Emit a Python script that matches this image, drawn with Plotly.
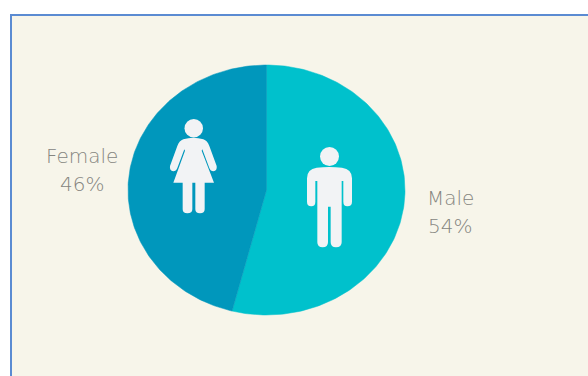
import numpy as np
import plotly.graph_objects as go

# Gender split
categories = ["Male", "Female"]
shares = [54, 46]
slice_colors = ["#00C1CC", "#0097BC"]

W, H = 588, 376
CX, CY, RX, RY = 266.5, 190, 138.5, 125
ICON = "#F2F3F5"
LABEL = "#85857F"
FONT = "DejaVu Sans ExtraLight, DejaVu Sans, sans-serif"


def wedge(start, end):
    # Clockwise sector from the 12 o'clock position, in shares of the total
    t = 2 * np.pi * np.linspace(start, end, 181)
    xs = np.concatenate([[CX], CX + RX * np.sin(t), [CX]])
    ys = np.concatenate([[CY], CY - RY * np.cos(t), [CY]])
    return xs, ys


def glyph(ox, oy, cmds):
    # Icon outlines are written on a grid of three units per pixel
    out = []
    for c in cmds:
        if isinstance(c, str):
            out.append(c)
        else:
            out.append(f"{ox + c[0] / 3:.2f},{oy + c[1] / 3:.2f}")
    return " ".join(out)


female_body = [
    "M", (190, 118), "Q", (220, 108), (250, 118), "Q", (262, 122), (268, 138),
    "L", (290, 198), "Q", (292, 212), (280, 214), "Q", (272, 214), (268, 204),
    "L", (247, 148), "L", (245, 152), "L", (282, 248), "L", (254, 248),
    "L", (254, 328), "Q", (254, 340), (240, 340), "Q", (226, 340), (226, 328),
    "L", (226, 248), "L", (217, 248), "L", (217, 328), "Q", (217, 340), (202, 340),
    "Q", (188, 340), (188, 328), "L", (188, 248), "L", (160, 248), "L", (195, 152),
    "L", (193, 148), "L", (172, 204), "Q", (168, 214), (160, 214),
    "Q", (148, 212), (150, 198), "L", (172, 138), "Q", (178, 122), (190, 118), "Z",
]
male_body = [
    "M", (80, 98), "Q", (118, 94), (156, 98), "Q", (186, 102), (186, 130),
    "L", (186, 200), "Q", (186, 214), (172, 214), "Q", (160, 214), (160, 200),
    "L", (160, 138), "L", (155, 138), "L", (155, 322), "Q", (155, 337), (138, 337),
    "Q", (122, 337), (122, 322), "L", (122, 215), "L", (114, 215), "L", (114, 322),
    "Q", (114, 337), (98, 337), "Q", (82, 337), (82, 322), "L", (82, 138),
    "L", (76, 138), "L", (76, 200), "Q", (76, 214), (64, 214), "Q", (51, 214), (51, 200),
    "L", (51, 130), "Q", (51, 102), (80, 98), "Z",
]

fig = go.Figure()

total = sum(shares)
cum = 0
for name, val, col in zip(categories, shares, slice_colors):
    xs, ys = wedge(cum / total, (cum + val) / total)
    cum += val
    fig.add_trace(go.Scatter(
        x=xs, y=ys, name=name, mode="lines", fill="toself", fillcolor=col,
        line=dict(color=col, width=0.5), hoverinfo="name",
    ))

shapes = [
    # Card behind the chart; it runs off the right and bottom edges
    dict(type="rect", x0=11, y0=15, x1=W + 20, y1=H + 20, xref="x", yref="y",
         fillcolor="#F7F5EA", line=dict(color="#5B8BD2", width=2), layer="below"),
    dict(type="path", path=glyph(120, 100, female_body), xref="x", yref="y",
         fillcolor=ICON, line=dict(width=0)),
    dict(type="circle", x0=184.5, x1=203, y0=119, y1=137.5, xref="x", yref="y",
         fillcolor=ICON, line=dict(width=0)),
    dict(type="path", path=glyph(290, 135, male_body), xref="x", yref="y",
         fillcolor=ICON, line=dict(width=0)),
    dict(type="circle", x0=320, x1=339, y0=147, y1=166, xref="x", yref="y",
         fillcolor=ICON, line=dict(width=0)),
]

label_spots = {"Male": (450, 198, 226), "Female": (82, 156, 184)}
annotations = []
for name, val in zip(categories, shares):
    x, y1, y2 = label_spots[name]
    for text, y in ((name, y1), (f"{val}%", y2)):
        annotations.append(dict(
            x=x, y=y, xref="x", yref="y", text=text, showarrow=False,
            xanchor="center", yanchor="middle",
            font=dict(family=FONT, size=20, color=LABEL, weight=200),
        ))

fig.update_layout(
    width=W, height=H, margin=dict(l=0, r=0, t=0, b=0),
    paper_bgcolor="#FFFFFF", plot_bgcolor="rgba(0,0,0,0)", showlegend=False,
    xaxis=dict(range=[0, W], visible=False, fixedrange=True),
    yaxis=dict(range=[H, 0], visible=False, fixedrange=True),
    shapes=shapes, annotations=annotations,
)

fig.write_html("out.html", config={"displayModeBar": False})
